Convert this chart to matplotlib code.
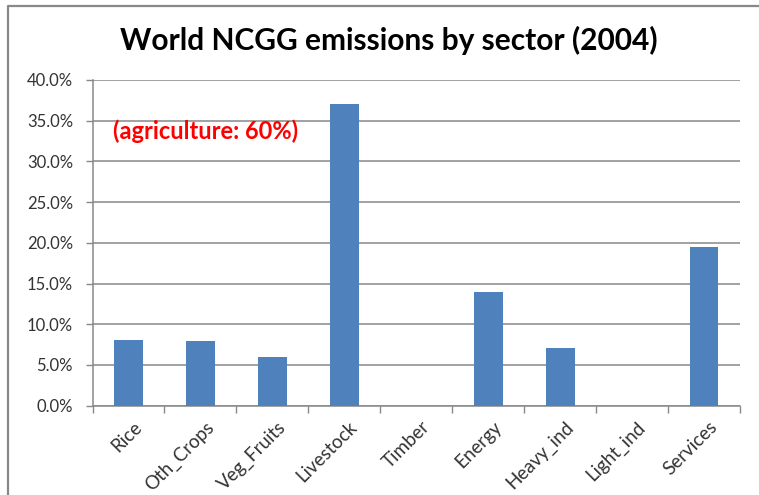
import numpy as np
import matplotlib.pyplot as plt
from matplotlib.lines import Line2D

# sector shares of world non-CO2 greenhouse gas emissions, 2004
sectors = ['Rice', 'Oth_Crops', 'Veg_Fruits', 'Livestock', 'Timber',
           'Energy', 'Heavy_ind', 'Light_ind', 'Services']
shares = [8.1, 7.9, 6.0, 37.0, 0.0, 14.0, 7.1, 0.0, 19.5]
yticks = [0, 5, 10, 15, 20, 25, 30, 35, 40]

plt.rcParams['font.family'] = ['Lato', 'DejaVu Sans']

fig = plt.figure(figsize=(7.59, 4.95), dpi=100)
ax = fig.add_axes([0.1219, 0.1804, 0.8531, 0.658])

x = np.arange(len(sectors))
ax.bar(x, shares, width=0.4, color='#4F81BD', zorder=3)

ax.set_xlim(-0.5, len(sectors) - 0.5)
ax.set_ylim(0, 40)
ax.set_yticks(yticks)
ax.set_yticklabels(['%.1f%%' % v for v in yticks], fontsize=12, color='#333333')
ax.yaxis.grid(True, color='#888888', linewidth=1.1, zorder=0)

# tick marks between categories, labels centred under the bars
ax.set_xticks(np.arange(-0.5, len(sectors)), labels=[])
ax.set_xticks(x + 0.06, minor=True)
ax.set_xticklabels(sectors, minor=True, rotation=45, ha='right', va='top',
                   rotation_mode='anchor', fontsize=13.5, color='#333333')
ax.tick_params(axis='x', which='major', length=5, color='#888888', width=1)
ax.tick_params(axis='x', which='minor', length=0, pad=9)
ax.tick_params(axis='y', length=5, color='#888888', width=1, pad=9)

for side in ['top', 'right']:
    ax.spines[side].set_visible(False)
for side in ['left', 'bottom']:
    ax.spines[side].set_color('#888888')
    ax.spines[side].set_linewidth(1.1)

fig.text(0.512, 0.919, 'World NCGG emissions by sector (2004)', ha='center',
         va='center', fontsize=21.5, fontweight='bold', color='black')
ax.text(0.032, 0.843, '(agriculture: 60%)', transform=ax.transAxes, ha='left',
        va='center', fontsize=17, fontweight='bold', color='#FF0000')

# chart frame, only the top and left edges fall inside the image
fx = 8 / 759
fy = 1 - 6 / 495
fig.add_artist(Line2D([fx, fx, 1.0], [0.0, fy, fy], transform=fig.transFigure,
                      color='#888888', linewidth=1.6))

fig.savefig('out.png', dpi=100)
